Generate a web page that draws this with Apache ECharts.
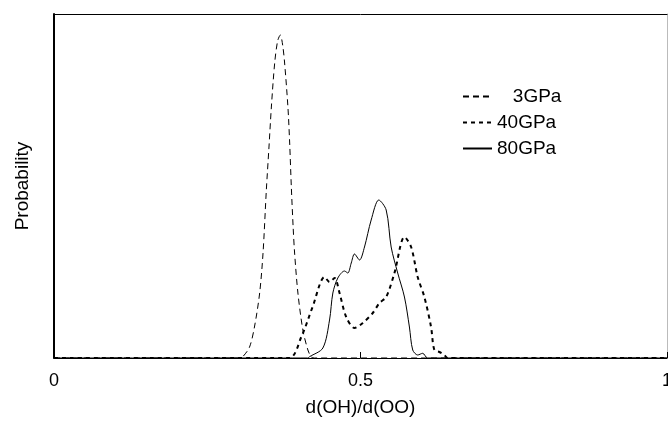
<!DOCTYPE html>
<html>
<head>
<meta charset="utf-8">
<script src="https://cdn.jsdelivr.net/npm/echarts@6/dist/echarts.min.js"></script>
<style>
  html, body { margin: 0; padding: 0; background: #fff; }
  #chart { width: 668px; height: 422px; }
</style>
</head>
<body>
<div id="chart"></div>
<script>
// ratio d(OH)/d(OO) vs probability (arbitrary units)
const xTicks = [0, 0.5, 1]
const seriesNames = ['3GPa', '40GPa', '80GPa']

const gpa3 = [
  [0, 0], [0.303, 0], [0.308, 1.3], [0.319, 11], [0.327, 31], [0.3355, 65],
  [0.341, 105], [0.3464, 168], [0.3507, 211], [0.3546, 251], [0.36, 295],
  [0.3648, 317], [0.3692, 323], [0.373, 313], [0.3762, 295], [0.3816, 251],
  [0.3844, 216], [0.3871, 172], [0.3901, 131], [0.3925, 105], [0.3979, 65],
  [0.406, 28], [0.4142, 8], [0.4197, 1], [0.4251, 0], [1, 0]
]

const gpa40 = [
  [0, 0], [0.383, 0], [0.4034, 21], [0.4218, 51], [0.4414, 81], [0.4495, 76],
  [0.4577, 80], [0.4658, 65], [0.4767, 41], [0.4902, 30], [0.5037, 35],
  [0.52, 45], [0.5309, 55], [0.5419, 61], [0.5554, 85], [0.5717, 121],
  [0.5826, 111], [0.5933, 81], [0.6042, 61], [0.6151, 31], [0.6205, 8],
  [0.6287, 6], [0.6368, 3], [0.6422, 0], [1, 0]
]

const gpa80 = [
  [0, 0], [0.4137, 0], [0.4169, 1.3], [0.4386, 10], [0.4495, 38], [0.4549, 65],
  [0.463, 80], [0.4739, 87], [0.4793, 85], [0.4849, 95], [0.4902, 104],
  [0.4984, 98], [0.5065, 111], [0.5174, 138], [0.5298, 158], [0.5419, 148],
  [0.55, 111], [0.5607, 85], [0.5717, 61], [0.5798, 31], [0.5852, 8],
  [0.5933, 3], [0.6015, 4.7], [0.6096, 0], [1, 0]
]

const font = 'Liberation Sans, Arial, sans-serif'

const chart = echarts.init(document.getElementById('chart'))

const lineSeries = (name, data, width, type) => ({
  name: name,
  type: 'line',
  data: data,
  smooth: 0.3,
  symbol: 'none',
  silent: true,
  lineStyle: { color: '#000', width: width, type: type },
  itemStyle: { color: '#000' }
})

chart.setOption({
  animation: false,
  backgroundColor: '#fff',
  grid: { left: 54, right: 1, top: 14, bottom: 64, outerBoundsMode: 'none', containLabel: false },
  legend: {
    orient: 'vertical',
    left: 462,
    top: 87,
    padding: 0,
    itemWidth: 29,
    itemHeight: 14,
    itemGap: 7,
    data: seriesNames,
    itemStyle: { opacity: 0 },
    formatter: name => (name === '3GPa' ? '   ' + name : name),
    textStyle: { fontFamily: font, fontSize: 19, color: '#000', lineHeight: 18 }
  },
  xAxis: [
    {
      type: 'value',
      min: xTicks[0],
      max: xTicks[xTicks.length - 1],
      interval: 0.5,
      axisLine: { onZero: false, lineStyle: { color: '#000', width: 1 } },
      axisTick: { show: true, inside: true, length: 6, lineStyle: { color: '#000' } },
      axisLabel: {
        fontFamily: font, fontSize: 18, color: '#000', margin: 14,
        formatter: v => String(v)
      },
      splitLine: { show: false },
      name: 'd(OH)/d(OO)',
      nameLocation: 'middle',
      nameGap: 40,
      nameTextStyle: { fontFamily: font, fontSize: 19, color: '#000' }
    },
    {
      type: 'value',
      position: 'top',
      min: 0,
      max: 1,
      axisLine: { show: true, onZero: false, lineStyle: { color: '#000', width: 1 } },
      axisTick: { show: false },
      axisLabel: { show: false },
      splitLine: { show: false }
    }
  ],
  yAxis: [
    {
      type: 'value',
      min: 0,
      max: 344,
      axisLine: { show: true, onZero: false, lineStyle: { color: '#000', width: 2 } },
      axisTick: { show: false },
      axisLabel: { show: false },
      splitLine: { show: false },
      name: 'Probability',
      nameLocation: 'middle',
      nameGap: 22,
      nameTextStyle: { fontFamily: font, fontSize: 19, color: '#000' }
    },
    {
      type: 'value',
      position: 'right',
      min: 0,
      max: 344,
      axisLine: { show: true, onZero: false, lineStyle: { color: '#bbb', width: 1 } },
      axisTick: { show: false },
      axisLabel: { show: false },
      splitLine: { show: false }
    }
  ],
  series: [
    lineSeries(seriesNames[0], gpa3, 1, [6, 4]),
    lineSeries(seriesNames[1], gpa40, 2, [4, 4]),
    lineSeries(seriesNames[2], gpa80, 1, 'solid')
  ]
})
</script>
</body>
</html>
